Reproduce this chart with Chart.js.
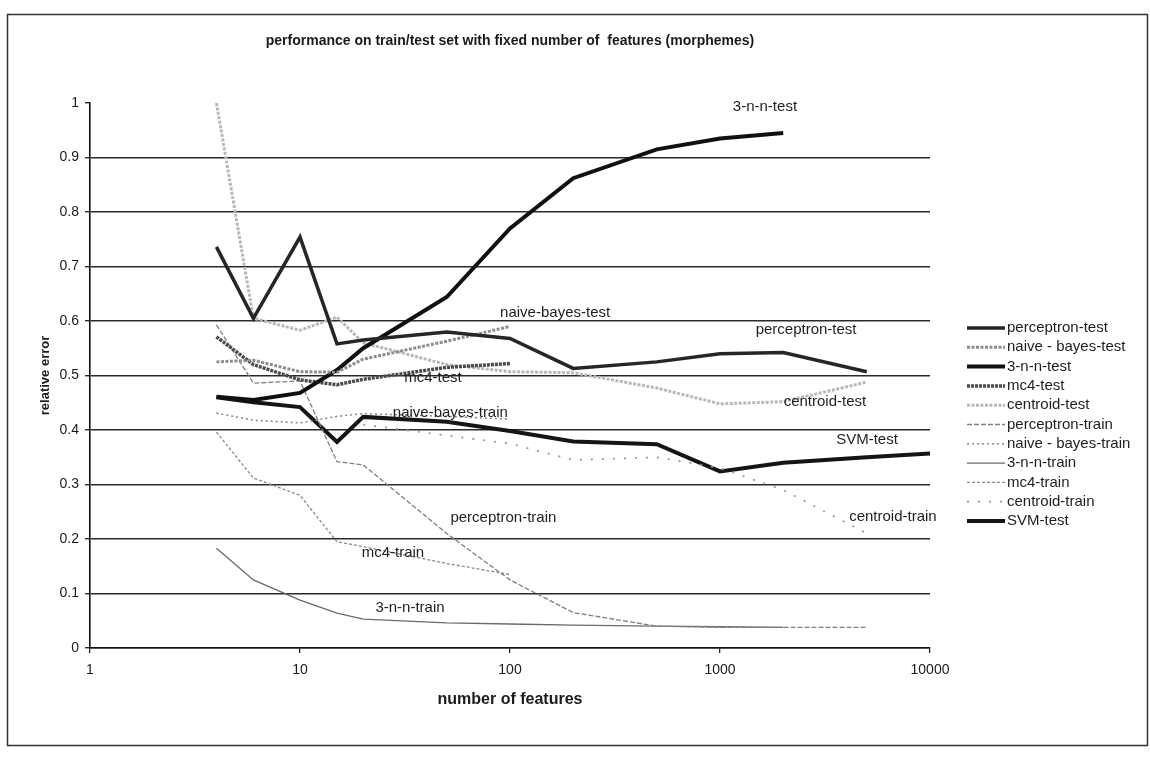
<!DOCTYPE html>
<html><head><meta charset="utf-8">
<script src="https://cdn.jsdelivr.net/npm/chart.js@4.4.1/dist/chart.umd.min.js"></script>
<style>html,body{margin:0;padding:0;background:#fff}canvas{display:block}</style>
</head><body>
<canvas id="c" width="1150" height="758"></canvas>
<script>
// ---- data ----
const xValues = [4, 6, 10, 15, 20, 50, 100, 200, 500, 1000, 2000, 5000, 10000];
const seriesNames = ['perceptron-test', 'naive - bayes-test', '3-n-n-test', 'mc4-test', 'centroid-test',
  'perceptron-train', 'naive - bayes-train', '3-n-n-train', 'mc4-train', 'centroid-train', 'SVM-test'];
const perceptronTest  = [0.736, 0.605, 0.754, 0.558, 0.565, 0.580, 0.568, 0.513, 0.525, 0.540, 0.542, 0.507, null];
const naiveBayesTest  = [0.525, 0.528, 0.507, 0.506, 0.530, 0.563, 0.590, null, null, null, null, null, null];
const nnTest          = [0.461, 0.455, 0.468, 0.510, 0.550, 0.644, 0.770, 0.862, 0.915, 0.935, 0.945, null, null];
const mc4Test         = [0.571, 0.520, 0.492, 0.483, 0.493, 0.515, 0.522, null, null, null, null, null, null];
const centroidTest    = [1.000, 0.605, 0.583, 0.607, 0.560, 0.520, 0.507, 0.505, 0.477, 0.448, 0.452, 0.488, null];
const perceptronTrain = [0.593, 0.486, 0.490, 0.342, 0.336, 0.210, 0.125, 0.065, 0.040, 0.038, 0.038, 0.038, null];
const naiveBayesTrain = [0.431, 0.418, 0.413, 0.425, 0.430, 0.425, 0.420, null, null, null, null, null, null];
const nnTrain         = [0.183, 0.125, 0.088, 0.064, 0.053, 0.046, 0.044, 0.042, 0.040, 0.039, 0.038, null, null];
const mc4Train        = [0.396, 0.312, 0.280, 0.195, 0.186, 0.155, 0.135, null, null, null, null, null, null];
const centroidTrain   = [null, null, null, null, 0.410, 0.390, 0.375, 0.345, 0.350, 0.330, 0.290, 0.210, null];
const svmTest         = [0.460, 0.451, 0.442, 0.378, 0.424, 0.415, 0.398, 0.379, 0.374, 0.324, 0.340, 0.350, 0.357];
const xTickValues = [1, 10, 100, 1000, 10000];
const yTickValues = [0, 0.1, 0.2, 0.3, 0.4, 0.5, 0.6, 0.7, 0.8, 0.9, 1];
// in-plot series labels, placed in data coordinates
const plotLabels = [
  {text: '3-n-n-test', x: 1637, y: 0.993},
  {text: 'naive-bayes-test', x: 164, y: 0.615},
  {text: 'perceptron-test', x: 2570, y: 0.583},
  {text: 'mc4-test', x: 43, y: 0.495},
  {text: 'centroid-test', x: 3160, y: 0.451},
  {text: 'naive-bayes-train', x: 52, y: 0.431},
  {text: 'SVM-test', x: 5010, y: 0.382},
  {text: 'perceptron-train', x: 93, y: 0.239},
  {text: 'centroid-train', x: 6660, y: 0.240},
  {text: 'mc4-train', x: 27.7, y: 0.174},
  {text: '3-n-n-train', x: 33.4, y: 0.073}
];

const allSeries = [perceptronTest, naiveBayesTest, nnTest, mc4Test, centroidTest,
  perceptronTrain, naiveBayesTrain, nnTrain, mc4Train, centroidTrain, svmTest];

// ---- styles ----
const FONT = '"Liberation Sans", Arial, sans-serif';
const styles = [
  {c: '#262626', w: 3.5, d: []},
  {c: '#8c8c8c', w: 3,   d: [3, 1.5]},
  {c: '#111111', w: 4,   d: []},
  {c: '#4a4a4a', w: 3.5, d: [3, 1]},
  {c: '#b8b8b8', w: 3,   d: [3, 1.5]},
  {c: '#808080', w: 1.3, d: [5, 2]},
  {c: '#8a8a8a', w: 1.6, d: [2, 3]},
  {c: '#6a6a6a', w: 1.3, d: []},
  {c: '#8a8a8a', w: 1.3, d: [3, 2]},
  {c: '#9a9a9a', w: 1.8, d: [2, 9]},
  {c: '#151515', w: 4,   d: []}
];

const datasets = allSeries.map((s, i) => ({
  label: seriesNames[i],
  data: xValues.map((x, j) => ({x: x, y: s[j]})).filter(p => p.y !== null),
  borderColor: styles[i].c,
  backgroundColor: styles[i].c,
  borderWidth: styles[i].w,
  borderDash: styles[i].d,
  pointRadius: 0,
  tension: 0,
  fill: false
}));

const frame = {
  id: 'frame',
  beforeDraw(chart) {
    const ctx = chart.ctx;
    ctx.save();
    ctx.fillStyle = '#ffffff';
    ctx.fillRect(0, 0, chart.width, chart.height);
    ctx.strokeStyle = '#333';
    ctx.lineWidth = 1.5;
    ctx.strokeRect(7.5, 14.5, 1140, 731);
    ctx.restore();
  }
};

const labelsPlugin = {
  id: 'plotLabels',
  afterDatasetsDraw(chart) {
    const ctx = chart.ctx, xs = chart.scales.x, ys = chart.scales.y;
    ctx.save();
    ctx.font = '15px ' + FONT;
    ctx.fillStyle = '#1e1e1e';
    ctx.textAlign = 'center';
    ctx.textBaseline = 'middle';
    plotLabels.forEach(l => ctx.fillText(l.text, xs.getPixelForValue(l.x), ys.getPixelForValue(l.y)));
    ctx.restore();
  }
};

const sideLegend = {
  id: 'sideLegend',
  afterDraw(chart) {
    const ctx = chart.ctx;
    ctx.save();
    ctx.font = '15px ' + FONT;
    ctx.textBaseline = 'middle';
    ctx.textAlign = 'left';
    chart.data.datasets.forEach((ds, i) => {
      const y = 328 + i * 19.3;
      ctx.strokeStyle = ds.borderColor;
      ctx.lineWidth = ds.borderWidth;
      ctx.setLineDash(ds.borderDash || []);
      ctx.beginPath();
      ctx.moveTo(967, y);
      ctx.lineTo(1005, y);
      ctx.stroke();
      ctx.setLineDash([]);
      ctx.fillStyle = '#1e1e1e';
      ctx.fillText(ds.label, 1007, y);
    });
    ctx.restore();
  }
};

new Chart(document.getElementById('c'), {
  type: 'line',
  data: {datasets},
  plugins: [frame, labelsPlugin, sideLegend],
  options: {
    responsive: false,
    animation: false,
    devicePixelRatio: 1,
    layout: {padding: {left: 30, top: 20, right: 220, bottom: 0}},
    plugins: {
      legend: {display: false},
      tooltip: {enabled: false},
      title: {
        display: true,
        fullSize: false,
        text: 'performance on train/test set with fixed number of  features (morphemes)',
        color: '#1a1a1a',
        font: {family: FONT, size: 14, weight: 'bold'},
        padding: {top: 13, bottom: 53.2}
      }
    },
    scales: {
      x: {
        type: 'logarithmic',
        min: 1, max: 10000,
        afterBuildTicks: s => { s.ticks = xTickValues.map(v => ({value: v})); },
        afterFit: s => { s.height = 110; },
        ticks: {
          color: '#1a1a1a',
          font: {family: FONT, size: 14},
          padding: 9,
          maxRotation: 0,
          autoSkip: false,
          callback: v => String(v)
        },
        grid: {drawOnChartArea: false, drawTicks: true, tickLength: 5, color: '#222', lineWidth: 1.3},
        border: {display: true, color: '#111', width: 1.6},
        title: {
          display: true,
          text: 'number of features',
          color: '#1a1a1a',
          font: {family: FONT, size: 16, weight: 'bold'},
          padding: {top: 0, bottom: 48.4}
        }
      },
      y: {
        type: 'linear',
        min: 0, max: 1,
        afterBuildTicks: s => { s.ticks = yTickValues.map(v => ({value: v})); },
        afterFit: s => { s.width = 60; },
        ticks: {
          color: '#1a1a1a',
          font: {family: FONT, size: 14},
          padding: 6,
          callback: v => String(Math.round(v * 10) / 10)
        },
        grid: {
          color: c => (c.tick && c.tick.value === 1) ? 'rgba(0,0,0,0)' : '#2a2a2a',
          tickColor: '#2a2a2a',
          lineWidth: 1.4,
          tickLength: 5
        },
        border: {display: true, color: '#111', width: 1.6},
        title: {
          display: true,
          text: 'relative error',
          color: '#1a1a1a',
          font: {family: FONT, size: 13, weight: 'bold'},
          padding: {top: 8, bottom: 0}
        }
      }
    }
  }
});
</script>
</body></html>
